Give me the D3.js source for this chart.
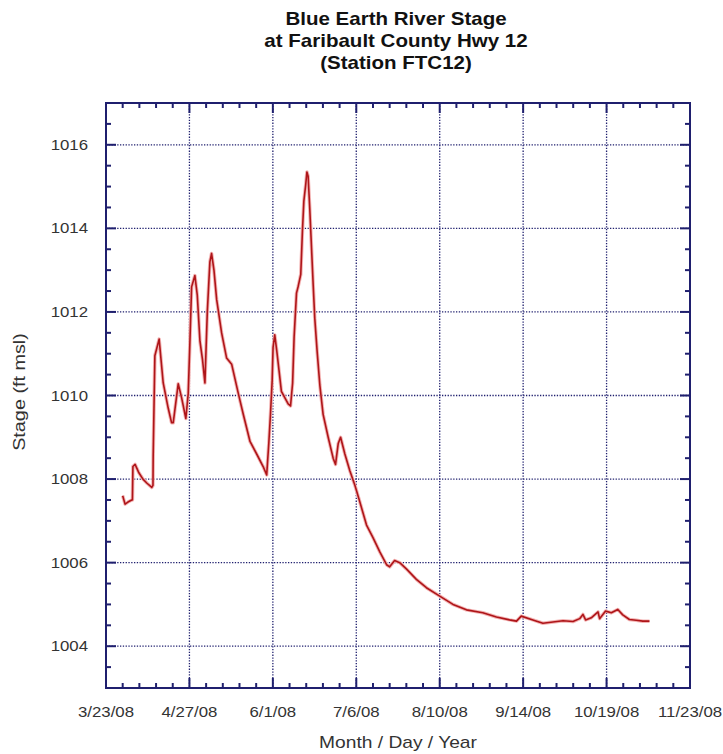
<!DOCTYPE html>
<html>
<head>
<meta charset="utf-8">
<script src="https://cdn.jsdelivr.net/npm/d3@7"></script>
<style>
  body { margin: 0; background: #fff; }
  text { font-family: "Liberation Sans", Arial, sans-serif; }
</style>
</head>
<body>
<div id="chart"></div>
<script>
// days after 3/23/08
const dayOffset = [7.0, 8.0, 9.2, 10.8, 11.1, 11.3, 12.2, 13.8, 15.5, 17.2, 19.2, 19.7, 19.8, 20.5,
  22.3, 24.0, 26.1, 27.5, 28.2, 30.3, 31.7, 33.5, 34.5, 35.2, 35.9, 37.3, 38.3, 39.4, 40.5, 41.5,
  42.5, 43.6, 44.3, 45.3, 46.4, 48.5, 50.6, 52.7, 55.5, 57.6, 60.4, 63.2, 65.9, 67.4, 68.3, 69.0,
  69.7, 70.1, 70.8, 71.6, 72.6, 73.6, 75.0, 76.4, 77.4, 78.3, 78.9, 79.9, 80.6, 81.7, 82.4, 83.0,
  83.8, 84.3, 84.8, 85.5, 86.2, 86.9, 87.6, 88.6, 89.7, 91.1, 93.2, 95.3, 96.3, 97.4, 98.4, 100.2,
  102.3, 104.4, 106.5, 109.3, 112.0, 114.9, 117.7, 119.0, 121.1, 123.2, 126.0, 130.2, 134.4, 140.0,
  145.6, 151.2, 158.1, 163.8, 169.3, 172.2, 174.2, 179.1, 183.3, 187.5, 191.7, 195.9, 198.7, 200.1,
  201.2, 203.6, 206.4, 207.1, 209.6, 212.0, 214.7, 216.8, 219.6, 222.4, 225.2, 228.0];

const stage = [1007.6, 1007.4, 1007.45, 1007.5, 1007.5, 1008.3, 1008.35, 1008.15, 1008.0, 1007.9,
  1007.8, 1007.85, 1008.55, 1010.95, 1011.35, 1010.3, 1009.7, 1009.35, 1009.35, 1010.28, 1009.95,
  1009.45, 1010.05, 1011.3, 1012.6, 1012.87, 1012.4, 1011.3, 1010.85, 1010.3, 1012.0, 1013.2,
  1013.4, 1013.0, 1012.3, 1011.5, 1010.9, 1010.75, 1010.05, 1009.55, 1008.9, 1008.6, 1008.3,
  1008.1, 1008.85, 1009.55, 1010.35, 1011.15, 1011.45, 1011.1, 1010.6, 1010.1, 1009.95, 1009.8,
  1009.75, 1010.3, 1011.4, 1012.45, 1012.6, 1012.9, 1013.95, 1014.65, 1015.05, 1015.35, 1015.25,
  1014.45, 1013.55, 1012.65, 1011.85, 1011.05, 1010.25, 1009.55, 1009.0, 1008.5, 1008.35, 1008.85,
  1009.0, 1008.6, 1008.2, 1007.85, 1007.45, 1006.9, 1006.6, 1006.25, 1005.95, 1005.9, 1006.05,
  1006.0, 1005.85, 1005.6, 1005.4, 1005.2, 1005.0, 1004.87, 1004.8, 1004.7, 1004.63, 1004.6,
  1004.72, 1004.63, 1004.55, 1004.58, 1004.61, 1004.59, 1004.66, 1004.76, 1004.63, 1004.68,
  1004.82, 1004.66, 1004.84, 1004.8, 1004.88, 1004.75, 1004.64, 1004.62, 1004.6, 1004.6];

const startDate = new Date(2008, 2, 23);
const endDate = new Date(2008, 10, 23);
const yMajorTicks = [1004, 1006, 1008, 1010, 1012, 1014, 1016];
const titleLines = ["Blue Earth River Stage", "at Faribault County Hwy 12", "(Station FTC12)"];

let margin = { top: 103, right: 33, bottom: 66, left: 106 },
  W = 723, H = 754,
  width = W - margin.left - margin.right,
  height = H - margin.top - margin.bottom;

const navy = "#1f1f6e";
const stretch = 1.2; // the original lettering is wide

const svg = d3.select("#chart").append("svg")
  .attr("width", W).attr("height", H);

const g = svg.append("g").attr("transform", `translate(${margin.left},${margin.top})`);

let x = d3.scaleTime().domain([startDate, endDate]).range([0, width]);
let y = d3.scaleLinear().domain([1003, 1017]).range([height, 0]);

let xMajor = d3.range(0, 246, 35).map(d => d3.timeDay.offset(startDate, d));
let xMinor = d3.range(0, 246, 7).map(d => d3.timeDay.offset(startDate, d));
let yMinor = d3.range(1003, 1017.01, 0.5);

// dotted grid
g.append("g").selectAll("line")
  .data(xMajor.slice(1, -1)).join("line")
  .attr("x1", d => x(d)).attr("x2", d => x(d))
  .attr("y1", 0).attr("y2", height)
  .attr("stroke", navy).attr("stroke-width", 1.3)
  .attr("stroke-dasharray", "1.3,1.5");

g.append("g").selectAll("line")
  .data(yMajorTicks).join("line")
  .attr("x1", 0).attr("x2", width)
  .attr("y1", d => y(d)).attr("y2", d => y(d))
  .attr("stroke", navy).attr("stroke-width", 1.3)
  .attr("stroke-dasharray", "1.3,1.5");

// ticks on all four sides, pointing inward
const tickFmt = d3.timeFormat("%-m/%-d/%y");
function isMajorX(d) { return xMajor.some(m => +m === +d); }
function isMajorY(v) { return yMajorTicks.includes(v) || v === 1003 || v === 1017; }

let ticks = g.append("g");
xMinor.forEach(d => {
  let len = isMajorX(d) ? 10 : 5;
  ticks.append("line").attr("x1", x(d)).attr("x2", x(d)).attr("y1", height).attr("y2", height - len);
  ticks.append("line").attr("x1", x(d)).attr("x2", x(d)).attr("y1", 0).attr("y2", len);
});
yMinor.forEach(v => {
  let len = isMajorY(v) ? 10 : 5;
  ticks.append("line").attr("x1", 0).attr("x2", len).attr("y1", y(v)).attr("y2", y(v));
  ticks.append("line").attr("x1", width).attr("x2", width - len).attr("y1", y(v)).attr("y2", y(v));
});
ticks.selectAll("line").attr("stroke", navy).attr("stroke-width", 2);

// frame
g.append("rect")
  .attr("width", width).attr("height", height)
  .attr("fill", "none").attr("stroke", navy).attr("stroke-width", 2);

// tick labels
g.append("g").selectAll("text")
  .data(xMajor).join("text")
  .attr("transform", d => `translate(${x(d)},${height + 29}) scale(${stretch},1)`)
  .attr("text-anchor", "middle")
  .attr("font-size", 14).attr("fill", "#333")
  .text(d => tickFmt(d));

g.append("g").selectAll("text")
  .data(yMajorTicks).join("text")
  .attr("transform", d => `translate(-18,${y(d) + 5}) scale(${stretch},1)`)
  .attr("text-anchor", "end")
  .attr("font-size", 14).attr("fill", "#333")
  .text(d => d);

// the stage line
let data = dayOffset.map((d, i) => ({ date: d3.timeHour.offset(startDate, Math.round(d * 24)), v: stage[i] }));

let line = d3.line()
  .x(d => x(d.date))
  .y(d => y(d.v));

g.append("path")
  .datum(data)
  .attr("d", line)
  .attr("fill", "none")
  .attr("stroke", "#f3b3b3")
  .attr("stroke-width", 3.5)
  .attr("stroke-linejoin", "round");

g.append("path")
  .datum(data)
  .attr("d", line)
  .attr("fill", "none")
  .attr("stroke", "#ae1519")
  .attr("stroke-width", 1.6)
  .attr("stroke-linejoin", "round");

// titles
svg.append("g").selectAll("text")
  .data(titleLines).join("text")
  .attr("transform", (d, i) => `translate(396,${25 + i * 22}) scale(1.14,1)`)
  .attr("text-anchor", "middle")
  .attr("font-size", 18).attr("font-weight", "bold").attr("fill", "#111")
  .text(d => d);

svg.append("text")
  .attr("transform", `translate(25,392) rotate(-90) scale(${stretch},1)`)
  .attr("text-anchor", "middle")
  .attr("font-size", 16.5).attr("fill", "#333")
  .text("Stage (ft msl)");

svg.append("text")
  .attr("transform", `translate(398,748) scale(${stretch},1)`)
  .attr("text-anchor", "middle")
  .attr("font-size", 16).attr("fill", "#333")
  .text("Month / Day / Year");
</script>
</body>
</html>
